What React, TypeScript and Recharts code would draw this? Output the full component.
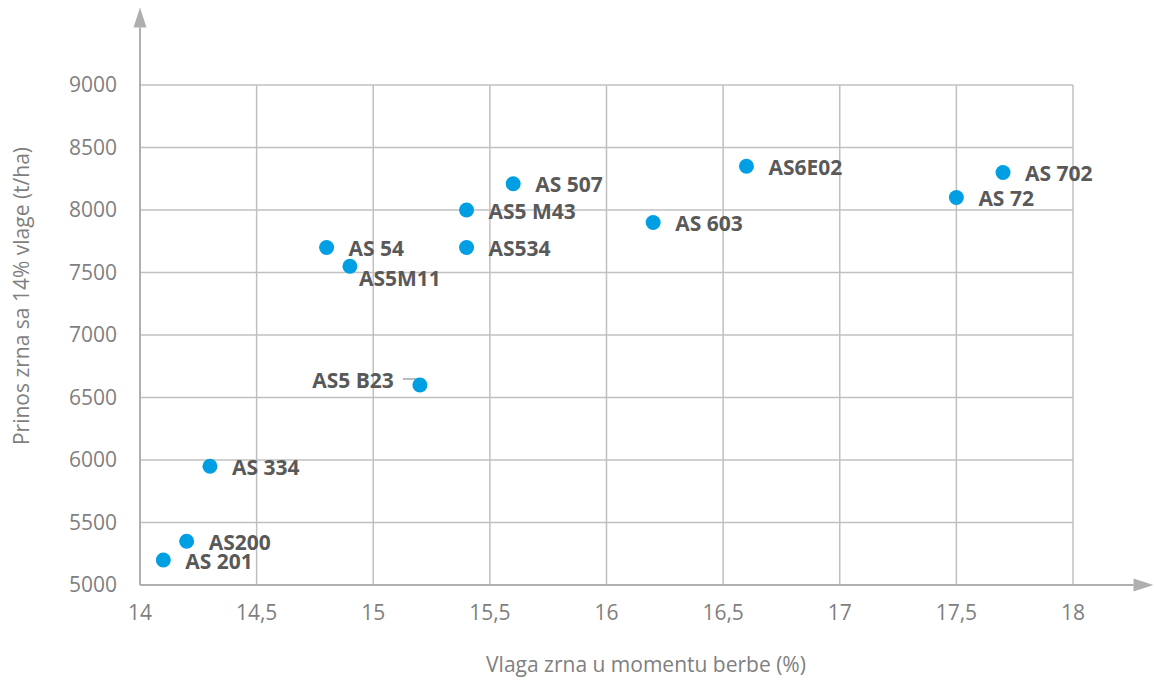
import { ScatterChart, Scatter, XAxis, YAxis, CartesianGrid, ReferenceLine } from 'recharts';

// hybrid names, grain moisture at harvest (%) and yield at 14% moisture
const hybrids = ['AS 201', 'AS200', 'AS 334', 'AS 54', 'AS5M11', 'AS5 B23', 'AS5 M43', 'AS534', 'AS 507', 'AS 603', 'AS6E02', 'AS 72', 'AS 702'];
const moisture = [14.1, 14.2, 14.3, 14.8, 14.9, 15.2, 15.4, 15.4, 15.6, 16.2, 16.6, 17.5, 17.7];
const yields = [5200, 5350, 5950, 7700, 7550, 6600, 8000, 7700, 8210, 7900, 8350, 8100, 8300];
const xTicks = [14, 14.5, 15, 15.5, 16, 16.5, 17, 17.5, 18];
const yTicks = [5000, 5500, 6000, 6500, 7000, 7500, 8000, 8500, 9000];

const data = hybrids.map((name, i) => ({ name, x: moisture[i], y: yields[i] }));

const FONT = '"Open Sans", sans-serif';
const DOT = '#009fe3';
const GRID = '#c0c0c0';
const AXIS = '#afafaf';

// labels that do not sit to the right of their dot
const labelPlacement: Record<string, { dx: number; dy: number; anchor?: 'end'; leader?: boolean }> = {
  AS5M11: { dx: 9, dy: 12 },
  'AS5 B23': { dx: -26, dy: -5, anchor: 'end', leader: true },
};

const Point = (props: any) => {
  const { cx, cy, payload } = props;
  const p = labelPlacement[payload.name] ?? { dx: 22, dy: 1 };
  return (
    <g>
      {p.leader && (
        <polyline points={`${cx - 17},${cy - 6} ${cx - 4},${cy - 6} ${cx},${cy}`} fill="none" stroke="#a6a6a6" strokeWidth={1.5} />
      )}
      <circle cx={cx} cy={cy} r={7.5} fill={DOT} />
      <text x={cx + p.dx} y={cy + p.dy + 7.5} textAnchor={p.anchor ?? 'start'} fontFamily={FONT} fontSize={21} fontWeight={700} fill="#595959">
        {payload.name}
      </text>
    </g>
  );
};

const ArrowAxis = (props: any) => {
  const { x1, y1, x2, y2 } = props;
  const len = Math.hypot(x2 - x1, y2 - y1);
  const ux = (x2 - x1) / len;
  const uy = (y2 - y1) / len;
  const bx = x2 - ux * 20;
  const by = y2 - uy * 20;
  return (
    <g>
      <line x1={x1} y1={y1} x2={bx} y2={by} stroke={AXIS} strokeWidth={2} />
      <polygon points={`${x2},${y2} ${bx - uy * 6.5},${by + ux * 6.5} ${bx + uy * 6.5},${by - ux * 6.5}`} fill={AXIS} />
    </g>
  );
};

const fmt = (v: number) => String(v).replace('.', ',');

export default function App() {
  return (
    <div style={{ position: 'absolute', left: 0, top: 0, background: '#fff' }}>
      <ScatterChart width={1154} height={681} margin={{ top: 85, right: 81, bottom: 0, left: 0 }}>
        <CartesianGrid stroke={GRID} strokeWidth={1.5} />
        <XAxis
          type="number"
          dataKey="x"
          domain={[14, 18]}
          ticks={xTicks}
          tickFormatter={fmt}
          axisLine={false}
          tickLine={false}
          tickSize={0}
          tickMargin={20}
          height={96}
          tick={{ fontFamily: FONT, fontSize: 21, fill: '#7f7f7f' }}
          label={{
            content: () => (
              <text x={646} y={672} textAnchor="middle" fontFamily={FONT} fontSize={21} fill="#7f7f7f">
                Vlaga zrna u momentu berbe (%)
              </text>
            ),
          }}
        />
        <YAxis
          type="number"
          dataKey="y"
          domain={[5000, 9000]}
          ticks={yTicks}
          axisLine={false}
          tickLine={false}
          tickSize={0}
          tickMargin={23}
          width={140}
          tick={{ fontFamily: FONT, fontSize: 21, fill: '#7f7f7f' }}
          label={{
            content: () => (
              <text x={29} y={296} transform="rotate(-90 29 296)" textAnchor="middle" fontFamily={FONT} fontSize={21} fill="#7f7f7f">
                Prinos zrna sa 14% vlage (t/ha)
              </text>
            ),
          }}
        />
        <ReferenceLine segment={[{ x: 14, y: 5000 }, { x: 18.345, y: 5000 }]} ifOverflow="visible" shape={ArrowAxis} />
        <ReferenceLine segment={[{ x: 14, y: 5000 }, { x: 14, y: 9620 }]} ifOverflow="visible" shape={ArrowAxis} />
        <Scatter data={data} shape={Point} isAnimationActive={false} />
      </ScatterChart>
    </div>
  );
}
